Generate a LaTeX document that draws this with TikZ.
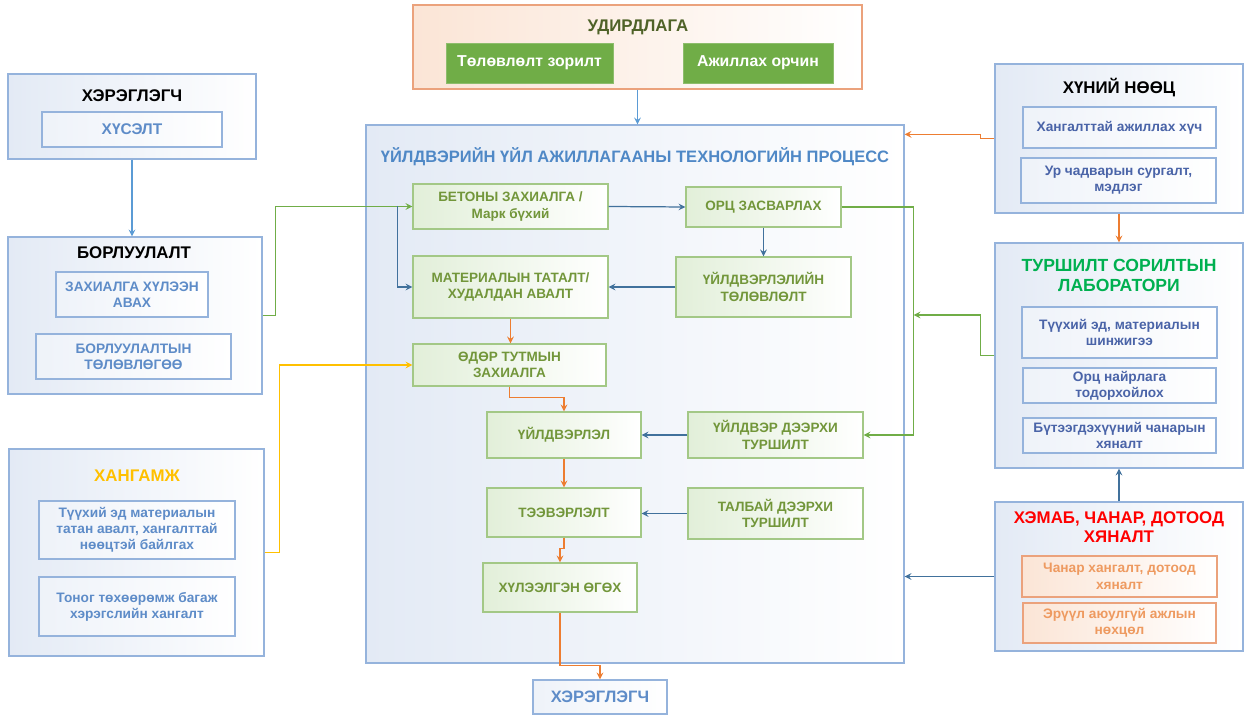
\documentclass[tikz,border=0pt]{standalone}
\usepackage{fontspec}
\setmainfont{Liberation Sans}
\usepackage{xcolor}
\usepackage{tikz}
\usetikzlibrary{shapes.geometric, arrows, positioning, calc}

\definecolor{frameblue}{HTML}{95B3DC}
\definecolor{fillblue}{HTML}{E3EAF5}
\definecolor{innerblue}{HTML}{5E8CC8}
\definecolor{rightblue}{HTML}{4A64A8}
\definecolor{titleblue}{HTML}{4F88C6}
\definecolor{framegreen}{HTML}{A3C886}
\definecolor{fillgreen}{HTML}{E2EFD9}
\definecolor{textgreen}{HTML}{72963A}
\definecolor{darkolive}{HTML}{4F6228}
\definecolor{solidgreen}{HTML}{70AD47}
\definecolor{lineblue}{HTML}{41719C}
\definecolor{lightline}{HTML}{5B9BD5}
\definecolor{lineorange}{HTML}{ED7D31}
\definecolor{linegreen}{HTML}{70AD47}
\definecolor{lineyellow}{HTML}{FFC000}
\definecolor{frameorange}{HTML}{EBA27C}
\definecolor{fillorange}{HTML}{FBE5D6}
\definecolor{textorange}{HTML}{EE9A60}
\definecolor{labgreen}{HTML}{00B050}

\begin{document}
\begin{tikzpicture}[
    x=0.02cm, y=-0.02cm,
    outer/.style={rectangle, draw=frameblue, line width=0.8pt, left color=fillblue, right color=white, inner sep=0pt},
    inner/.style={rectangle, draw=frameblue, line width=0.8pt, left color=fillblue!60, right color=white, align=center, text=innerblue, font=\bfseries\fontsize{7.8}{9.2}\selectfont, inner sep=1pt},
    rinner/.style={inner, text=rightblue, font=\bfseries\fontsize{7.8}{9}\selectfont},
    oinner/.style={inner, draw=frameorange, left color=fillorange, text=textorange, font=\bfseries\fontsize{7.8}{9.4}\selectfont},
    procstep/.style={rectangle, draw=framegreen, line width=0.8pt, left color=fillgreen, right color=white, align=center, text=textgreen, font=\bfseries\fontsize{7.7}{9.2}\selectfont, inner sep=1pt},
    solidbox/.style={rectangle, draw=solidgreen!80!white, fill=solidgreen, text=white, font=\bfseries\fontsize{9}{11}\selectfont, inner sep=1pt},
    title/.style={align=center, font=\bfseries\fontsize{9.6}{11.2}\selectfont},
    arrow/.style={->, >=stealth, line width=0.7pt, lineblue},
    lightarrow/.style={arrow, lightline},
    orangearrow/.style={arrow, lineorange},
    greenarrow/.style={arrow, linegreen},
    yellowarrow/.style={arrow, lineyellow}
]
\useasboundingbox (0,0) rectangle (1245,715);

% Nodes
\node[outer, minimum width=4.96cm, minimum height=1.7cm] (userbox) at (132,116.5) {};
\node[title] (usertitle) at (132,96) {ХЭРЭГЛЭГЧ};
\node[inner, minimum width=3.6cm, minimum height=0.7cm, font=\bfseries\fontsize{8.8}{10}\selectfont] (wish) at (132,129.5) {ХҮСЭЛТ};

\node[outer, minimum width=5.08cm, minimum height=3.14cm] (salesbox) at (135,315.5) {};
\node[title] (salestitle) at (134,253) {БОРЛУУЛАЛТ};
\node[inner, minimum width=3.04cm, minimum height=0.9cm] (order) at (132,294.5) {ЗАХИАЛГА ХҮЛЭЭН\\АВАХ};
\node[inner, minimum width=3.9cm, minimum height=0.9cm] (salesplan) at (133.5,356.5) {БОРЛУУЛАЛТЫН\\ТӨЛӨВЛӨГӨӨ};

\node[outer, minimum width=5.1cm, minimum height=4.14cm] (supplybox) at (136.5,552.5) {};
\node[title, text=lineyellow] (supplytitle) at (137,476) {ХАНГАМЖ};
\node[inner, minimum width=3.92cm, minimum height=1.16cm] (rawmat) at (137,530) {Түүхий эд материалын\\татан авалт, хангалттай\\нөөцтэй байлгах};
\node[inner, minimum width=3.92cm, minimum height=1.18cm] (equip) at (137,606.5) {Тоног төхөөрөмж багаж\\хэрэгслийн хангалт};

\node[outer, draw=frameorange, left color=fillorange, minimum width=8.98cm, minimum height=1.68cm] (mgmtbox) at (637.5,47) {};
\node[title, text=darkolive] (mgmttitle) at (638,27) {УДИРДЛАГА};
\node[solidbox, minimum width=3.34cm, minimum height=0.8cm] (goal) at (529.5,63) {Төлөвлөлт зорилт};
\node[solidbox, minimum width=3cm, minimum height=0.8cm] (workenv) at (758,63) {Ажиллах орчин};

\node[outer, minimum width=10.76cm, minimum height=10.76cm] (procbox) at (635,394) {};
\node[title, text=titleblue, font=\bfseries\fontsize{9.4}{11}\selectfont] (proctitle) at (635,157) {ҮЙЛДВЭРИЙН ҮЙЛ АЖИЛЛАГААНЫ ТЕХНОЛОГИЙН ПРОЦЕСС};
\node[procstep, minimum width=3.9cm, minimum height=0.9cm] (concrete) at (510.5,206.5) {БЕТОНЫ ЗАХИАЛГА /\\Марк бүхий};
\node[procstep, minimum width=3.1cm, minimum height=0.8cm] (recipe) at (763.5,207) {ОРЦ ЗАСВАРЛАХ};
\node[procstep, minimum width=3.9cm, minimum height=1.24cm] (material) at (510.5,287) {МАТЕРИАЛЫН ТАТАЛТ/\\ХУДАЛДАН АВАЛТ};
\node[procstep, minimum width=3.5cm, minimum height=1.2cm] (prodplan) at (763.5,287) {ҮЙЛДВЭРЛЭЛИЙН\\ТӨЛӨВЛӨЛТ};
\node[procstep, minimum width=3.86cm, minimum height=0.84cm] (daily) at (509.5,365) {ӨДӨР ТУТМЫН\\ЗАХИАЛГА};
\node[procstep, minimum width=3.08cm, minimum height=0.92cm] (production) at (564,435) {ҮЙЛДВЭРЛЭЛ};
\node[procstep, minimum width=3.5cm, minimum height=0.92cm] (planttest) at (775.5,435) {ҮЙЛДВЭР ДЭЭРХИ\\ТУРШИЛТ};
\node[procstep, minimum width=3.08cm, minimum height=0.98cm] (transport) at (564,512.5) {ТЭЭВЭРЛЭЛТ};
\node[procstep, minimum width=3.5cm, minimum height=1.02cm] (fieldtest) at (775.5,513.5) {ТАЛБАЙ ДЭЭРХИ\\ТУРШИЛТ};
\node[procstep, minimum width=3.08cm, minimum height=0.98cm] (delivery) at (560,587.5) {ХҮЛЭЭЛГЭН ӨГӨХ};
\node[inner, minimum width=2.68cm, minimum height=0.68cm, font=\bfseries\fontsize{9.4}{11}\selectfont] (customer) at (600,697) {ХЭРЭГЛЭГЧ};

\node[outer, minimum width=4.96cm, minimum height=2.98cm] (hrbox) at (1119,138.5) {};
\node[title] (hrtitle) at (1119,88) {ХҮНИЙ НӨӨЦ};
\node[rinner, minimum width=3.86cm, minimum height=0.82cm] (workforce) at (1119.5,127.5) {Хангалттай ажиллах хүч};
\node[rinner, minimum width=3.9cm, minimum height=0.9cm] (training) at (1118.5,180.5) {Ур чадварын сургалт,\\мэдлэг};

\node[outer, minimum width=4.96cm, minimum height=4.5cm] (labbox) at (1119,355.5) {};
\node[title, text=labgreen, font=\bfseries\fontsize{10}{11.4}\selectfont] (labtitle) at (1119,275) {ТУРШИЛТ СОРИЛТЫН\\ЛАБОРАТОРИ};
\node[rinner, minimum width=3.9cm, minimum height=1.02cm] (rawtest) at (1119.5,332.5) {Түүхий эд, материалын\\шинжигээ};
\node[rinner, minimum width=3.86cm, minimum height=0.7cm] (mixdesign) at (1119.5,385.5) {Орц найрлага\\тодорхойлох};
\node[rinner, minimum width=3.86cm, minimum height=0.7cm] (prodqc) at (1119.5,435.5) {Бүтээгдэхүүний чанарын\\хяналт};

\node[outer, minimum width=4.96cm, minimum height=2.98cm] (qcbox) at (1119,576.5) {};
\node[title, text=red, font=\bfseries\fontsize{9.6}{11}\selectfont] (qctitle) at (1119,527.5) {ХЭМАБ, ЧАНАР, ДОТООД\\ХЯНАЛТ};
\node[oinner, minimum width=3.9cm, minimum height=0.82cm] (qassure) at (1119.5,576.5) {Чанар хангалт, дотоод\\хяналт};
\node[oinner, minimum width=3.86cm, minimum height=0.8cm] (safety) at (1119.5,623) {Эрүүл аюулгүй ажлын\\нөхцөл};

\coordinate (split) at ($(concrete.west)+(-15,0)$);
\coordinate (labin) at ($(recipe.east)+(72,108)$);
\coordinate (hrin) at ($(procbox.north east)+(0,10)$);

% Arrows
\draw[lightarrow] (userbox.south) -- (userbox.south |- salesbox.north);
\draw[lightarrow] (mgmtbox.south) -- (mgmtbox.south |- procbox.north);
\draw[greenarrow] (salesbox.east) -- ++(13,0) |- (concrete.west);
\draw[arrow] (split) |- (material.west);
\draw[yellowarrow] (supplybox.east) -- ++(15,0) |- (daily.west);
\draw[arrow] (concrete.east) -- (recipe.west);
\draw[arrow] (recipe.south) -- (prodplan.north);
\draw[arrow] (prodplan.west) -- (material.east);
\draw[orangearrow] (material.south) -- (material.south |- daily.north);
\draw[orangearrow] (daily.south) -- ++(0,11) -| (production.north);
\draw[orangearrow] (production.south) -- (transport.north);
\draw[orangearrow] (transport.south) -- ++(0,11) -| (delivery.north);
\draw[orangearrow] (delivery.south) -- ++(0,53) -| (customer.north);
\draw[arrow] (planttest.west) -- (production.east);
\draw[arrow] (fieldtest.west) -- (fieldtest.west -| transport.east);
\draw[greenarrow] (recipe.east) -- ++(72,0) |- (planttest.east);
\draw[greenarrow] (labbox.west) -- ++(-14,0) |- (labin);
\draw[orangearrow] (hrbox.west) -- ++(-14,0) |- (hrin);
\draw[orangearrow] (hrbox.south) -- (labbox.north);
\draw[arrow] (qcbox.north) -- (labbox.south);
\draw[arrow] (qcbox.west) -- (qcbox.west -| procbox.east);

\end{tikzpicture}
\end{document}
